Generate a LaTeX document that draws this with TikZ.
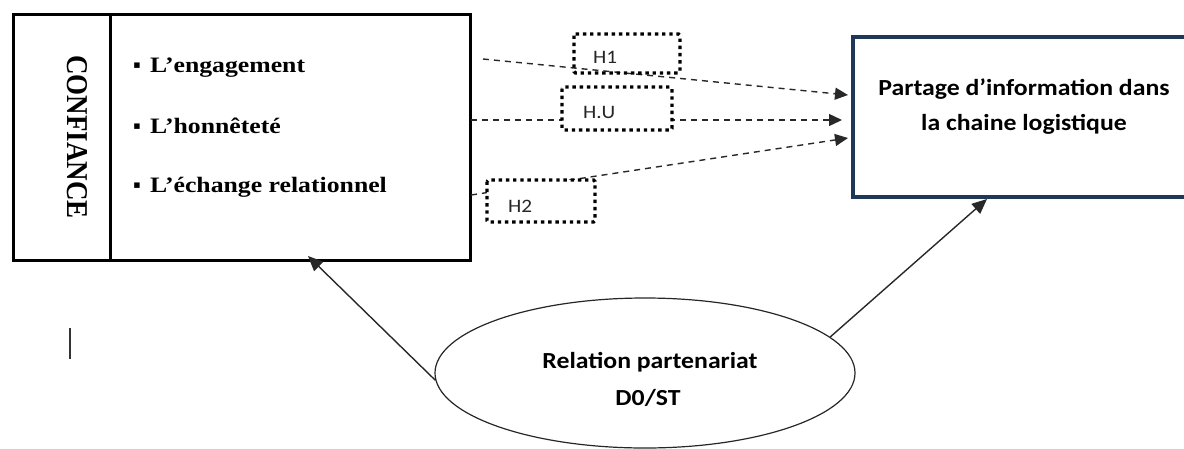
\documentclass[tikz,border=0pt]{standalone}
\usepackage{fontspec}
\setmainfont{Liberation Serif}
\newfontfamily\calfont{Carlito}
\usetikzlibrary{arrows.meta,shapes.geometric}
\definecolor{navy}{RGB}{31,56,86}
\definecolor{lineg}{RGB}{40,40,40}
\newcommand{\hsA}[1]{\scalebox{1.17}[1]{#1}}
\newcommand{\hsB}[1]{\scalebox{1.12}[1]{#1}}
\begin{document}
\begin{tikzpicture}[x=1pt,y=-1pt,
  boxline/.style={draw=black,line width=3pt,inner sep=0pt,outer sep=0pt},
  outbox/.style={draw=navy,line width=4pt,inner sep=0pt,outer sep=0pt},
  bullettxt/.style={anchor=base west,inner sep=0pt,font=\fontsize{22}{26}\selectfont\bfseries},
  caltxt/.style={anchor=base,inner sep=0pt,font=\fontsize{23}{27}\calfont\bfseries},
  hlabel/.style={anchor=base west,inner sep=0pt,font=\fontsize{19}{22}\calfont,text=black!85},
  hbox/.style={draw=black,line width=3.4pt,dash pattern=on 3.4pt off 3.8pt,rounded corners=1.5pt},
  dasharr/.style={draw=lineg,line width=1.4pt,dash pattern=on 6pt off 5pt,-{Triangle[length=13pt,width=12pt]}},
  solidarr/.style={draw=lineg,line width=1.4pt,-{Triangle[length=15pt,width=13pt]}}
]
\useasboundingbox (0,0) rectangle (1184,448);
\clip (0,0) rectangle (1184,448);

% left box
\node[boxline,minimum width=456.5pt,minimum height=245.5pt,anchor=north west] (left) at (13.5,14.5) {};
\draw[line width=3pt] (110,14.5) coordinate (divtop) -- (110,260) coordinate (divbot);
\node[inner sep=0pt] (conf) at (77,137) {\scalebox{1.12}[1]{\rotatebox{-90}{\fontsize{27}{32}\selectfont\bfseries CONFIANCE}}};
\node[bullettxt] (b1) at (133,72) {\makebox[17pt][l]{\fontsize{22}{26}\selectfont ▪}\hsA{L’engagement}};
\node[bullettxt] (b2) at (133,133) {\makebox[17pt][l]{\fontsize{22}{26}\selectfont ▪}\hsA{L’honnêteté}};
\node[bullettxt] (b3) at (133,192) {\makebox[17pt][l]{\fontsize{22}{26}\selectfont ▪}\hsA{L’échange relationnel}};

% right box
\node[outbox,minimum width=350pt,minimum height=160pt,anchor=north west] (right) at (853,36.7) {};
\node[caltxt] (r1) at (1024,95) {\hsB{Partage d’information dans}};
\node[caltxt] (r2) at (1024,130) {\hsB{la chaine logistique}};

% ellipse
\node[draw=black!85,line width=1.2pt,ellipse,minimum width=420pt,minimum height=150pt,inner sep=0pt] (ell) at (645,373) {};
\node[caltxt] (e1) at (650,368) {\hsB{Relation partenariat}};
\node[caltxt] (e2) at (648,405) {\hsB{D0/ST}};

% dashed arrows
\coordinate (s1) at (483,59);
\coordinate (t1) at (848,95);
\coordinate (s2) at (471,120);
\coordinate (t2) at (842,120);
\coordinate (s3) at (471,195);
\coordinate (t3) at (848,138);
\draw[dasharr] (s1) -- (t1);
\draw[dasharr] (s2) -- (t2);
\draw[dasharr] (s3) -- (t3);

% hypothesis boxes
\draw[hbox] (574,34) rectangle (680,73);
\node[hlabel] (h1) at (593,63) {\hsB{H1}};
\draw[hbox,fill=white] (562,87) rectangle (672,130);
\node[hlabel] (hu) at (583,118) {\hsB{H.U}};
\draw[hbox,fill=white] (487,180) rectangle (595,222);
\node[hlabel] (h2) at (508,212) {\hsB{H2}};

% solid arrows
\coordinate (lt) at (308,256);
\coordinate (rt) at (987,199);
\draw[solidarr] (ell.182) -- (lt);
\draw[solidarr] (ell.11) -- (rt);

% stray mark
\draw[draw=black!80,line width=2pt] (70,328) coordinate (m1) -- (70,359) coordinate (m2);
\end{tikzpicture}
\end{document}
